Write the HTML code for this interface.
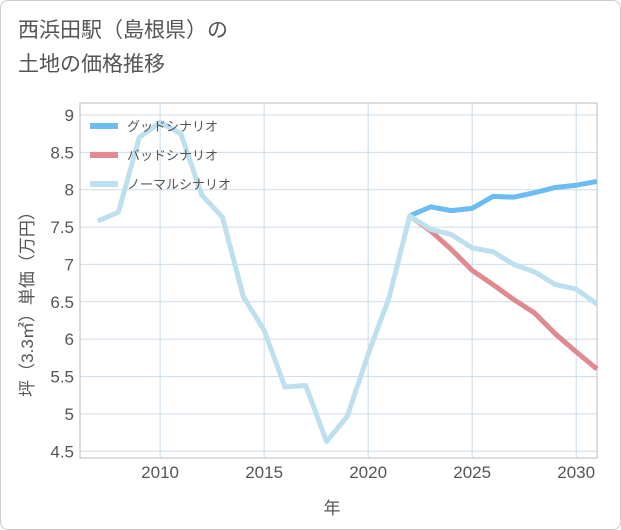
<!DOCTYPE html>
<html><head><meta charset="utf-8"><style>
body{margin:0;background:#fff;font-family:"Liberation Sans","Noto Sans CJK JP",sans-serif;}
.card{position:absolute;left:0;top:0;width:619px;height:528px;border:1px solid #ccc;border-radius:8px;background:#fff;}
.title{position:absolute;left:18px;top:14px;font-size:21px;color:#555;line-height:34px;}
</style></head><body>
<div class="card"></div>
<div class="title">西浜田駅（島根県）の<br>土地の価格推移</div>
<svg id="c" width="621" height="530" style="position:absolute;left:0;top:0"></svg>
<script>
const years=[2007,2008,2009,2010,2011,2012,2013,2014,2015,2016,2017,2018,2019,2020,2021,2022,2023,2024,2025,2026,2027,2028,2029,2030,2031];
const normal=[7.58,7.7,8.7,8.9,8.75,7.93,7.63,6.57,6.12,5.36,5.38,4.63,4.97,5.8,6.55,7.65,7.47,7.4,7.22,7.17,7.0,6.9,6.73,6.67,6.47];
const futureYears=[2022,2023,2024,2025,2026,2027,2028,2029,2030,2031];
const good=[7.65,7.77,7.72,7.75,7.91,7.9,7.96,8.03,8.06,8.11];
const bad=[7.65,7.45,7.2,6.92,6.73,6.53,6.35,6.07,5.83,5.6];
const xTicks=[2010,2015,2020,2025,2030];
const yTicks=[4.5,5,5.5,6,6.5,7,7.5,8,8.5,9];
const L=80,R=597,T=103,B=458,x0=2006.15,x1=2031,y0=4.41,y1=9.16;
const X=v=>L+(v-x0)/(x1-x0)*(R-L), Y=v=>B-(v-y0)/(y1-y0)*(B-T);
const s=document.getElementById('c'),NS='http://www.w3.org/2000/svg';
function el(t,a,p){const e=document.createElementNS(NS,t);for(const k in a)e.setAttribute(k,a[k]);(p||s).appendChild(e);return e;}
let g;
yTicks.forEach(v=>{g=el('line',{x1:L,x2:R,y1:Y(v),y2:Y(v),stroke:'#d0dce6','stroke-width':1});

g=el('text',{x:L-6,y:Y(v)+6,'text-anchor':'end','font-size':17,fill:'#555'});g.textContent=v;
});
xTicks.forEach(v=>{g=el('line',{x1:X(v),x2:X(v),y1:T,y2:B,stroke:'#c8dbe8','stroke-width':1});

g=el('text',{x:X(v),y:B+20,'text-anchor':'middle','font-size':17,fill:'#555'});g.textContent=v;
});
g=el('rect',{x:L,y:T,width:R-L,height:B-T,fill:'none',stroke:'#bbb'});

function line(xs,ys,c,n){const d=xs.map((x,i)=>(i?'L':'M')+X(x)+','+Y(ys[i])).join('');
const p=el('path',{d:d,fill:'none',stroke:c,'stroke-width':5,'stroke-linejoin':'round'});
}
line(futureYears,good,'#6bbcf2','good-scenario-line');
line(futureYears,bad,'#de8a90','bad-scenario-line');
line(years,normal,'#bde0ee','normal-scenario-line');
[['グッドシナリオ','#6bbcf2'],['バッドシナリオ','#de8a90'],['ノーマルシナリオ','#bde0ee']].forEach((e,i)=>{
const y=126+i*29;
g=el('line',{x1:90,x2:118,y1:y,y2:y,stroke:e[1],'stroke-width':6});

g=el('text',{x:127,y:y+5,'font-size':13,fill:'#555'});g.textContent=e[0];
});
g=el('text',{x:332,y:514,'text-anchor':'middle','font-size':17,fill:'#555'});g.textContent='年';

g=el('text',{x:0,y:0,'text-anchor':'middle','font-size':17,fill:'#555',transform:'translate(33,300) rotate(-90)'});g.textContent='坪（3.3㎡）単価（万円）';

</script>
</body></html>
